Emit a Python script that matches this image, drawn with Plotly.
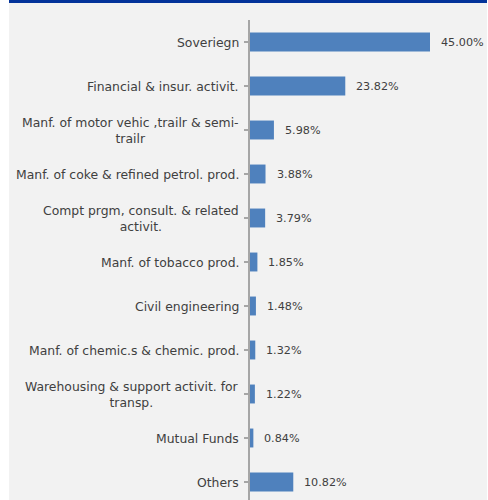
import plotly.graph_objects as go

# Sector allocation (% of portfolio)
categories = [
    "Soveriegn",
    "Financial & insur. activit.",
    "Manf. of motor vehic ,trailr & semi-<br>trailr",
    "Manf. of coke & refined petrol. prod.",
    "Compt prgm, consult. & related<br>activit.",
    "Manf. of tobacco prod.",
    "Civil engineering",
    "Manf. of chemic.s & chemic. prod.",
    "Warehousing & support activit. for<br>transp.",
    "Mutual Funds",
    "Others",
]
values = [45.00, 23.82, 5.98, 3.88, 3.79, 1.85, 1.48, 1.32, 1.22, 0.84, 10.82]

W, H = 488, 500
ML, MR, MT, MB = 250, 38, 20, 0
plot_w = W - ML - MR
plot_h = H - MT - MB
band = 44.0  # pixel height of one category slot

BG = "#f2f2f2"
BAR = "#4f81bd"
TXT = "#404040"
FONT = "DejaVu Sans"
FS = 12.4
FS_VAL = 11.2

idx = list(range(len(categories)))

fig = go.Figure(
    go.Bar(
        x=values,
        y=idx,
        orientation="h",
        marker=dict(color=BAR, line=dict(width=0)),
        width=0.43,
        hoverinfo="skip",
    )
)

annotations = []
# category labels, right-aligned against the axis, lines centred
for i, c in enumerate(categories):
    annotations.append(dict(
        x=0, xref="paper", y=i, yref="y",
        text=c, showarrow=False, xanchor="right", yanchor="middle",
        align="center", xshift=-9,
        font=dict(family=FONT, size=FS, color=TXT),
    ))
# value labels to the right of each bar
for i, v in enumerate(values):
    annotations.append(dict(
        x=v, xref="x", y=i, yref="y",
        text=f"{v:.2f}%", showarrow=False, xanchor="left", yanchor="middle",
        xshift=9,
        font=dict(family=FONT, size=FS_VAL, color=TXT),
    ))

def px_to_paper_x(px):
    return (px - ML) / plot_w

def px_to_paper_y(py):
    return (H - MB - py) / plot_h

shapes = [
    # white strip on the left edge
    dict(type="rect", xref="paper", yref="paper", layer="below",
         x0=px_to_paper_x(0), x1=px_to_paper_x(9),
         y0=px_to_paper_y(H), y1=px_to_paper_y(0),
         fillcolor="white", line=dict(width=0)),
    # thin white strip on the right edge
    dict(type="rect", xref="paper", yref="paper", layer="below",
         x0=px_to_paper_x(487), x1=px_to_paper_x(W),
         y0=px_to_paper_y(H), y1=px_to_paper_y(0),
         fillcolor="white", line=dict(width=0)),
    # dark blue header band
    dict(type="rect", xref="paper", yref="paper",
         x0=px_to_paper_x(9), x1=px_to_paper_x(487),
         y0=px_to_paper_y(3), y1=px_to_paper_y(0),
         fillcolor="#03339a", line=dict(width=0)),
]

fig.update_layout(
    width=W, height=H,
    margin=dict(l=ML, r=MR, t=MT, b=MB, pad=0),
    paper_bgcolor=BG, plot_bgcolor=BG,
    showlegend=False,
    bargap=0.57,
    annotations=annotations,
    shapes=shapes,
    xaxis=dict(range=[0, 50], visible=False, fixedrange=True),
    yaxis=dict(
        range=[-0.5 + plot_h / band, -0.5],
        tickmode="array", tickvals=idx, ticktext=[""] * len(idx),
        showticklabels=False,
        ticks="outside", tickson="boundaries", ticklen=4,
        tickcolor="#a6a6a6", tickwidth=1.5,
        showline=True, linecolor="#a6a6a6", linewidth=2,
        showgrid=False, zeroline=False, fixedrange=True,
    ),
)

fig.write_html("out.html")
